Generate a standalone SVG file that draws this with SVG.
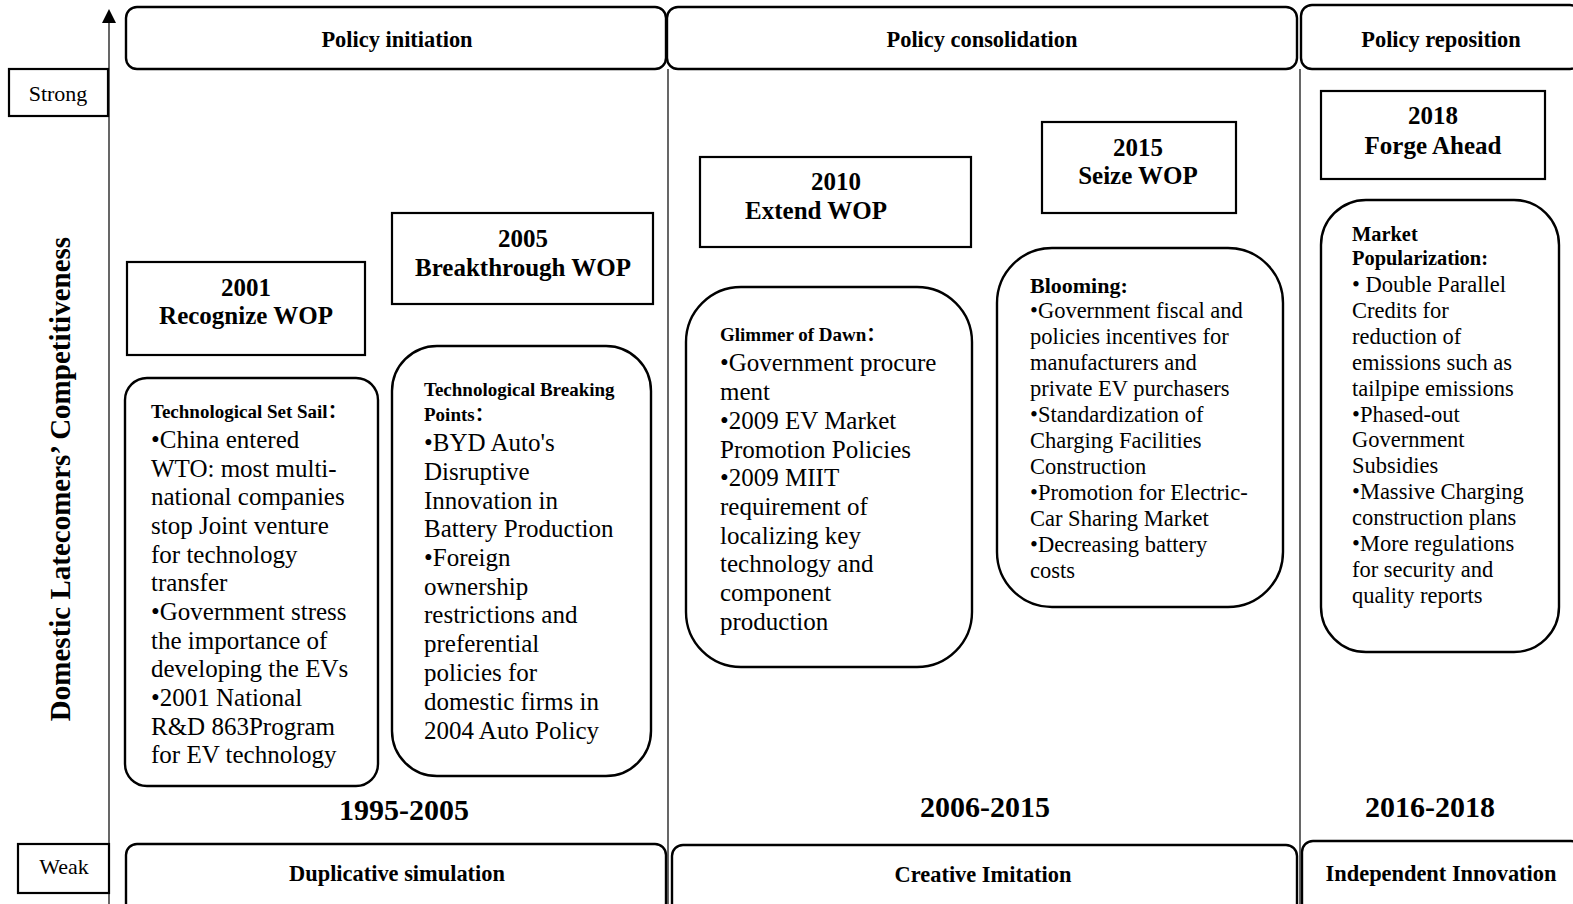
<svg xmlns="http://www.w3.org/2000/svg" width="1573" height="904" viewBox="0 0 1573 904">
<defs>
<style>
text{font-family:"Liberation Serif","Noto Sans CJK SC",serif;fill:#000}
.hdr{font-size:22.4px;font-weight:bold;text-anchor:middle}
.yr{font-size:25px;font-weight:bold;text-anchor:middle}
.per{font-size:30px;font-weight:bold;text-anchor:middle}
.ttl{font-size:19px;font-weight:bold}
.b24{font-size:25px}
.b20{font-size:22.5px}
.ttl20{font-size:22px;font-weight:bold}
.ttlm{font-size:20.4px;font-weight:bold}
.lab{font-size:22px;text-anchor:middle}
.box{fill:#fff;stroke:#000;stroke-width:2.2}
.rbox{fill:#fff;stroke:#000;stroke-width:2.4}
.thin{stroke:#000;stroke-width:1.2;fill:none}
</style>
</defs>
<rect width="1573" height="904" fill="#fff"/>

<g id="axis">
<line class="thin" x1="109" y1="20" x2="109" y2="904"/>
<polygon points="109,9 102,23 116,23" fill="#000"/>
<text transform="translate(70,479) rotate(-90)" style="font-size:29px;font-weight:bold;text-anchor:middle">Domestic Latecomers’ Competitiveness</text>
</g>
<g id="strong"><rect class="box" x="9" y="69" width="99" height="47"/><text class="lab" x="58" y="101">Strong</text></g>
<g id="weak"><rect class="box" x="18" y="844" width="91" height="49"/><text class="lab" x="64" y="874">Weak</text></g>

<g id="dividers">
<line class="thin" x1="668" y1="69" x2="668" y2="904"/>
<line class="thin" x1="1300" y1="69" x2="1300" y2="904"/>
</g>

<g id="top-initiation"><rect class="rbox" x="126" y="7" width="540" height="62" rx="11"/><text class="hdr" x="397" y="47">Policy initiation</text></g>
<g id="top-consolidation"><rect class="rbox" x="667" y="7" width="630" height="62" rx="11"/><text class="hdr" x="982" y="47">Policy consolidation</text></g>
<g id="top-reposition"><rect class="rbox" x="1301" y="5" width="280" height="64" rx="11"/><text class="hdr" x="1441" y="47">Policy reposition</text></g>

<g id="bot-duplicative"><rect class="rbox" x="126" y="844" width="540" height="70" rx="11"/><text class="hdr" x="397" y="881">Duplicative simulation</text></g>
<g id="bot-creative"><rect class="rbox" x="672" y="845" width="625" height="70" rx="11"/><text class="hdr" x="983" y="882">Creative Imitation</text></g>
<g id="bot-independent"><rect class="rbox" x="1302" y="841" width="280" height="74" rx="11"/><text class="hdr" x="1441" y="881">Independent Innovation</text></g>

<g id="periods">
<text class="per" x="404" y="820">1995-2005</text>
<text class="per" x="985" y="817">2006-2015</text>
<text class="per" x="1430" y="817">2016-2018</text>
</g>

<g id="y2001"><rect class="box" x="127" y="262" width="238" height="93"/>
<text class="yr" x="246" y="296">2001</text><text class="yr" x="246" y="324">Recognize WOP</text></g>
<g id="y2005"><rect class="box" x="392" y="213" width="261" height="91"/>
<text class="yr" x="523" y="247">2005</text><text class="yr" x="523" y="276">Breakthrough WOP</text></g>
<g id="y2010"><rect class="box" x="700" y="157" width="271" height="90"/>
<text class="yr" x="836" y="190">2010</text><text class="yr" x="816" y="219">Extend WOP</text></g>
<g id="y2015"><rect class="box" x="1042" y="122" width="194" height="91"/>
<text class="yr" x="1138" y="156">2015</text><text class="yr" x="1138" y="184">Seize WOP</text></g>
<g id="y2018"><rect class="box" x="1321" y="91" width="224" height="88"/>
<text class="yr" x="1433" y="124">2018</text><text class="yr" x="1433" y="154">Forge Ahead</text></g>

<g id="setsail"><rect class="rbox" x="125" y="378" width="253" height="408" rx="22"/>
<text class="ttl" x="151" y="418">Technological Set Sail：</text>
<text class="b24" x="151" y="448">•China entered</text>
<text class="b24" x="151" y="477">WTO: most multi-</text>
<text class="b24" x="151" y="505">national companies</text>
<text class="b24" x="151" y="534">stop Joint venture</text>
<text class="b24" x="151" y="563">for technology</text>
<text class="b24" x="151" y="591">transfer</text>
<text class="b24" x="151" y="620">•Government stress</text>
<text class="b24" x="151" y="649">the importance of</text>
<text class="b24" x="151" y="677">developing the EVs</text>
<text class="b24" x="151" y="706">•2001 National</text>
<text class="b24" x="151" y="735">R&amp;D 863Program</text>
<text class="b24" x="151" y="763">for EV technology</text>
</g>

<g id="breaking"><rect class="rbox" x="392" y="346" width="259" height="430" rx="45"/>
<text class="ttl" x="424" y="396">Technological Breaking</text>
<text class="ttl" x="424" y="421">Points：</text>
<text class="b24" x="424" y="451">•BYD Auto's</text>
<text class="b24" x="424" y="480">Disruptive</text>
<text class="b24" x="424" y="509">Innovation in</text>
<text class="b24" x="424" y="537">Battery Production</text>
<text class="b24" x="424" y="566">•Foreign</text>
<text class="b24" x="424" y="595">ownership</text>
<text class="b24" x="424" y="623">restrictions and</text>
<text class="b24" x="424" y="652">preferential</text>
<text class="b24" x="424" y="681">policies for</text>
<text class="b24" x="424" y="710">domestic firms in</text>
<text class="b24" x="424" y="739">2004 Auto Policy</text>
</g>

<g id="glimmer"><rect class="rbox" x="686" y="287" width="286" height="380" rx="55"/>
<text class="ttl" x="720" y="341">Glimmer of Dawn：</text>
<text class="b24" x="720" y="371">•Government procure</text>
<text class="b24" x="720" y="400">ment</text>
<text class="b24" x="720" y="429">•2009 EV Market</text>
<text class="b24" x="720" y="458">Promotion Policies</text>
<text class="b24" x="720" y="486">•2009 MIIT</text>
<text class="b24" x="720" y="515">requirement of</text>
<text class="b24" x="720" y="544">localizing key</text>
<text class="b24" x="720" y="572">technology and</text>
<text class="b24" x="720" y="601">component</text>
<text class="b24" x="720" y="630">production</text>
</g>

<g id="blooming"><rect class="rbox" x="997" y="248" width="286" height="359" rx="55"/>
<text class="ttl20" x="1030" y="293">Blooming:</text>
<text class="b20" x="1030" y="318">•Government fiscal and</text>
<text class="b20" x="1030" y="344">policies incentives for</text>
<text class="b20" x="1030" y="370">manufacturers and</text>
<text class="b20" x="1030" y="396">private EV purchasers</text>
<text class="b20" x="1030" y="422">•Standardization of</text>
<text class="b20" x="1030" y="448">Charging Facilities</text>
<text class="b20" x="1030" y="474">Construction</text>
<text class="b20" x="1030" y="500">•Promotion for Electric-</text>
<text class="b20" x="1030" y="526">Car Sharing Market</text>
<text class="b20" x="1030" y="552">•Decreasing battery</text>
<text class="b20" x="1030" y="578">costs</text>
</g>

<g id="market"><rect class="rbox" x="1321" y="200" width="238" height="452" rx="45"/>
<text class="ttlm" x="1352" y="241">Market</text>
<text class="ttlm" x="1352" y="265">Popularization:</text>
<text class="b20" x="1352" y="292">• Double Parallel</text>
<text class="b20" x="1352" y="318">Credits for</text>
<text class="b20" x="1352" y="344">reduction of</text>
<text class="b20" x="1352" y="370">emissions such as</text>
<text class="b20" x="1352" y="396">tailpipe emissions</text>
<text class="b20" x="1352" y="422">•Phased-out</text>
<text class="b20" x="1352" y="447">Government</text>
<text class="b20" x="1352" y="473">Subsidies</text>
<text class="b20" x="1352" y="499">•Massive Charging</text>
<text class="b20" x="1352" y="525">construction plans</text>
<text class="b20" x="1352" y="551">•More regulations</text>
<text class="b20" x="1352" y="577">for security and</text>
<text class="b20" x="1352" y="603">quality reports</text>
</g>
</svg>
